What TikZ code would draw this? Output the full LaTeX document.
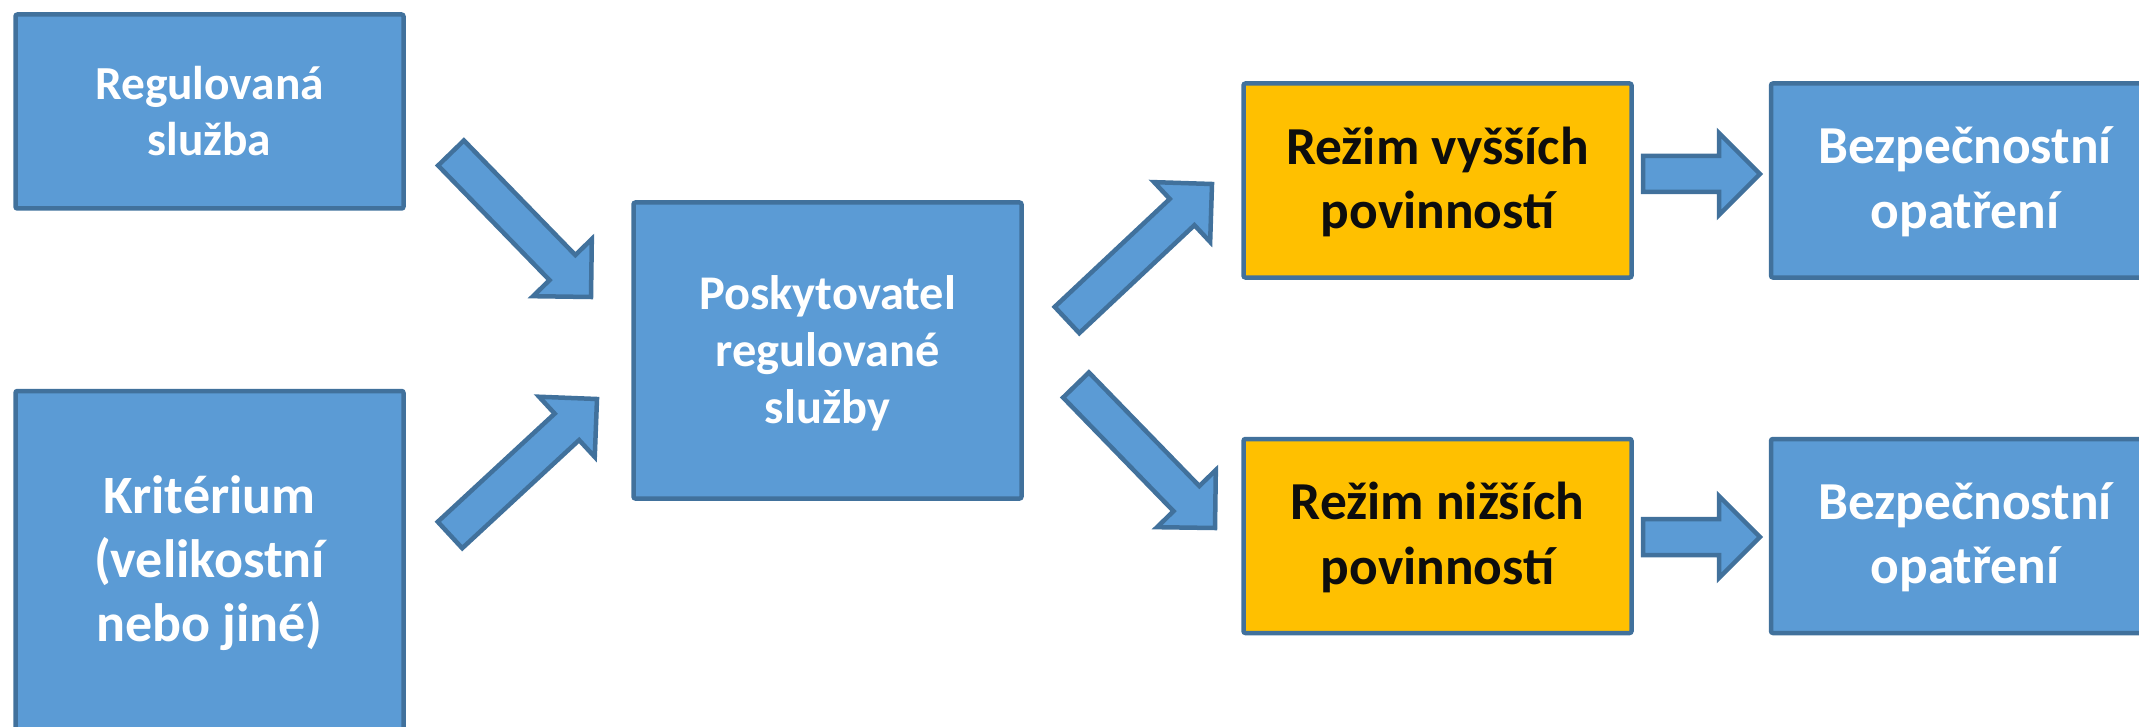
\documentclass[tikz,border=0pt]{standalone}
\usepackage{fontspec}
\setmainfont{Carlito}
\usetikzlibrary{calc}
\definecolor{boxblue}{HTML}{5B9BD5}
\definecolor{edgeblue}{HTML}{41719C}
\definecolor{boxyellow}{HTML}{FFC000}
\definecolor{darktext}{HTML}{0D0D0D}
\newcommand\tstrut[1]{\rule{0pt}{#1}}
\newcommand\bstrut[1]{\rule[-#1]{0pt}{#1}}
\newcommand\blockarr[2]{%
  \path ($(#2)!20.5pt!(#1)$) coordinate (#1h);
  \draw[barrow] ($(#1)!9pt!90:(#2)$) -- ($(#1h)!9pt!-90:(#1)$) -- ($(#1h)!20.5pt!-90:(#1)$)
    -- (#2) -- ($(#1h)!20.5pt!90:(#1)$) -- ($(#1h)!9pt!90:(#1)$) -- ($(#1)!9pt!-90:(#2)$) -- cycle;
}
\begin{document}
\begin{tikzpicture}[x=0.5pt,y=-0.5pt,
  box/.style={draw=edgeblue, line width=2.25pt, fill=boxblue, text=white, font=\bfseries,
    align=center, inner sep=0pt, minimum width=194pt, rounded corners=1pt},
  ybox/.style={box, fill=boxyellow, text=darktext},
  bigtext/.style={font=\bfseries\fontsize{26.7}{32.4}\selectfont},
  barrow/.style={draw=edgeblue, line width=2.25pt, fill=boxblue, line join=miter}]
\useasboundingbox (0,0) rectangle (2139,727);
\clip (0,0) rectangle (2139,727);

\node[box, minimum height=97pt, font=\bfseries\fontsize{23.7}{28.3}\selectfont] (reg) at (209.5,111.5)
  {\tstrut{24.1pt}Regulovaná\\služba\bstrut{8pt}};
\node[box, minimum height=175pt, font=\bfseries\fontsize{27}{32}\selectfont] (krit) at (209.5,566)
  {\tstrut{23.7pt}Kritérium\\(velikostní\\nebo jiné)\bstrut{12pt}};
\node[box, minimum height=148pt, font=\bfseries\fontsize{24.2}{28.5}\selectfont] (posk) at (827.5,350.5)
  {\tstrut{23.8pt}Poskytovatel\\regulované\\služby\bstrut{8pt}};
\node[ybox, minimum height=97pt, bigtext] (vys) at (1437.5,180.5)
  {\tstrut{24pt}Režim vyšších\\povinností\bstrut{8pt}};
\node[ybox, minimum height=97pt, bigtext] (niz) at (1437.5,536)
  {\tstrut{24pt}Režim nižších\\povinností\bstrut{8pt}};
\node[box, minimum height=97pt, bigtext] (bez1) at (1965,180.5)
  {\tstrut{23.5pt}Bezpečnostní\\opatření\bstrut{8pt}};
\node[box, minimum height=97pt, bigtext] (bez2) at (1965,536)
  {\tstrut{23.5pt}Bezpečnostní\\opatření\bstrut{8pt}};

\coordinate (a1) at (451,153);  \coordinate (a1p) at (591,297);
\coordinate (a2) at (450,535);  \coordinate (a2p) at (597,399);
\coordinate (a3) at (1067,320); \coordinate (a3p) at (1212,184);
\coordinate (a4) at (1076,385); \coordinate (a4p) at (1215,528);
\coordinate (a5) at (1643,174); \coordinate (a5p) at (1760,174);
\coordinate (a6) at (1643,537); \coordinate (a6p) at (1760,537);

\blockarr{a1}{a1p}
\blockarr{a2}{a2p}
\blockarr{a3}{a3p}
\blockarr{a4}{a4p}
\blockarr{a5}{a5p}
\blockarr{a6}{a6p}
\end{tikzpicture}
\end{document}
